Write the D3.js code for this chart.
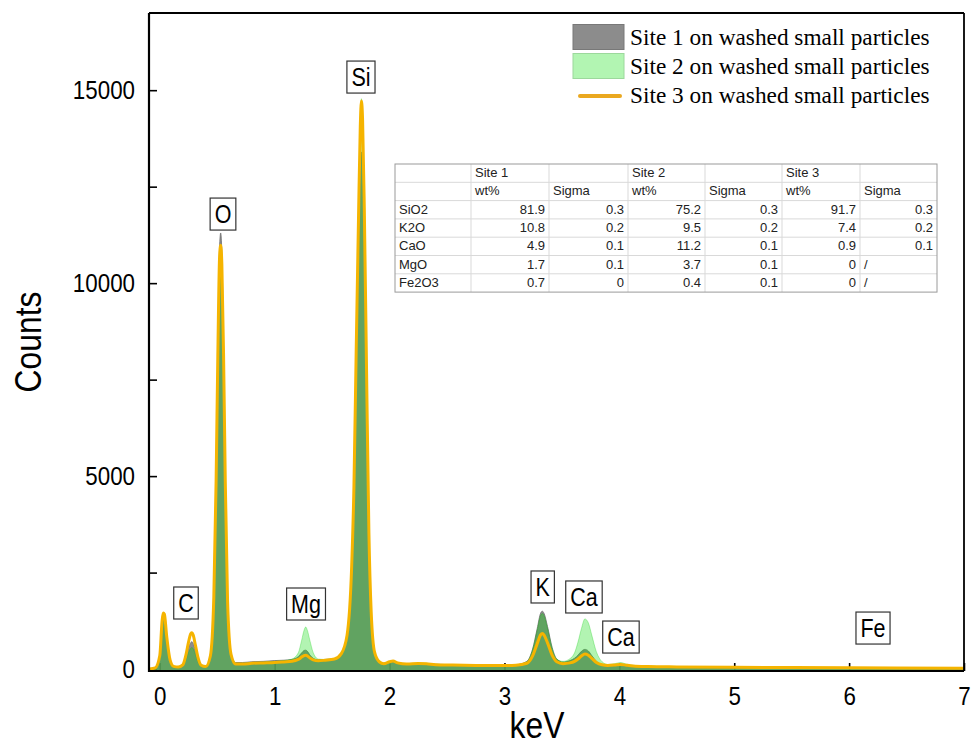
<!DOCTYPE html>
<html>
<head>
<meta charset="utf-8">
<script src="https://cdn.jsdelivr.net/npm/d3@7"></script>
<style>
  html, body { margin: 0; padding: 0; background: #fff; }
  svg { display: block; }
</style>
</head>
<body>
<svg id="chart" width="972" height="745"></svg>
<script>
// ---- EDS spectra (energy in keV, counts) ----
const keV = [-0.09,-0.04,0.00,0.02,0.03,0.04,0.06,0.09,0.12,0.16,
  0.20,0.23,0.25,0.27,0.28,0.29,0.31,0.33,0.36,0.40,
  0.44,0.47,0.49,0.505,0.52,0.53,0.54,0.555,0.57,0.59,
  0.62,0.66,0.72,0.80,0.90,1.00,1.08,1.15,1.205,1.235,
  1.255,1.27,1.285,1.305,1.335,1.38,1.44,1.52,1.58,1.63,
  1.67,1.69,1.71,1.73,1.745,1.755,1.765,1.78,1.80,1.82,
  1.84,1.87,1.91,1.95,2.00,2.03,2.07,2.15,2.25,2.32,
  2.40,2.55,2.75,2.95,3.10,3.195,3.245,3.285,3.315,3.33,
  3.345,3.375,3.415,3.455,3.51,3.57,3.61,3.64,3.67,3.70,
  3.73,3.76,3.80,3.85,3.90,3.96,4.01,4.06,4.12,4.25,
  4.50,5.00,5.50,6.00,6.40,7.00];

const site1 = [0,20,300,1150,1320,1280,750,200,70,60,
  110,300,550,690,710,670,480,250,90,70,
  350,1900,5000,8300,10900,11300,10800,8400,5000,1800,
  400,170,170,190,200,220,230,250,320,420,
  480,490,460,370,280,240,250,270,400,820,
  2450,4350,7600,10700,12800,13400,12950,10900,7000,3250,
  1350,420,210,150,190,210,170,140,150,145,
  125,115,100,95,110,200,520,1050,1450,1500,
  1440,1100,560,260,180,220,280,360,460,510,
  470,350,200,120,100,110,125,105,85,70,
  60,50,40,35,30,22];

const site2 = [0,20,280,1100,1280,1240,700,180,60,55,
  100,250,430,540,560,530,380,200,80,60,
  310,1700,4500,7500,9900,10300,9800,7600,4500,1600,
  360,150,150,170,180,200,220,260,420,750,
  1000,1090,1000,760,430,260,250,270,420,900,
  2700,4800,8400,11800,14100,14780,14300,12000,7700,3600,
  1500,450,200,150,200,220,170,140,150,150,
  125,115,105,100,110,190,500,1000,1390,1440,
  1380,1050,540,260,200,270,420,700,1050,1300,
  1200,880,450,190,120,140,170,130,95,75,
  60,50,40,35,30,22];

const site3 = [0,30,350,1250,1450,1420,850,230,70,55,
  110,400,700,920,940,890,620,330,100,65,
  340,1850,4850,8100,10650,10980,10500,8150,4850,1750,
  380,130,130,150,160,170,185,200,250,310,
  350,360,340,290,240,215,230,260,400,880,
  2650,4750,8350,11750,14050,14720,14250,11950,7650,3550,
  1480,430,190,140,190,210,160,130,145,140,
  115,105,95,90,100,150,340,660,890,920,
  880,680,360,190,140,160,200,260,340,390,
  360,280,170,110,95,105,120,100,80,65,
  55,45,38,32,28,20];

const seriesNames = ["Site 1 on washed small particles",
                     "Site 2 on washed small particles",
                     "Site 3 on washed small particles"];

// ---- axis ticks ----
const xTickValues = [0, 1, 2, 3, 4, 5, 6, 7];
const yTickValues = [0, 2500, 5000, 7500, 10000, 12500, 15000];
const yTickLabels = [0, 5000, 10000, 15000];

// ---- element line labels (anchor in keV / counts) ----
const elementNames  = ["C", "O", "Mg", "Si", "K", "Ca", "Ca", "Fe"];
const elementKeV    = [0.228, 0.550, 1.273, 1.751, 3.333, 3.692, 4.014, 6.208];
const elementCounts = [1712, 11790, 1686, 15340, 2127, 1868, 830, 1063];

// ---- quantification table ----
const tableSites  = ["Site 1", "Site 2", "Site 3"];
const oxides      = ["SiO2", "K2O", "CaO", "MgO", "Fe2O3"];
const site1Wt     = ["81.9", "10.8", "4.9", "1.7", "0.7"];
const site1Sigma  = ["0.3", "0.2", "0.1", "0.1", "0"];
const site2Wt     = ["75.2", "9.5", "11.2", "3.7", "0.4"];
const site2Sigma  = ["0.3", "0.2", "0.1", "0.1", "0.1"];
const site3Wt     = ["91.7", "7.4", "0.9", "0", "0"];
const site3Sigma  = ["0.3", "0.2", "0.1", "/", "/"];

// ---------------------------------------------------------------
const svg = d3.select("#chart");
const SANS = "'Liberation Sans', Arial, sans-serif";
const SERIF = "'Liberation Serif', 'Times New Roman', serif";
const NARROW = 0.86;   // horizontal squeeze for the narrow sans labels

const plotL = 149, plotR = 964, plotT = 13, plotB = 671;
const x = d3.scaleLinear().domain([-0.094, 7]).range([plotL, plotR]);
const y = d3.scaleLinear().domain([-50, 17000]).range([plotB, plotT]);

svg.append("defs").append("clipPath").attr("id", "plotClip")
  .append("rect").attr("x", plotL).attr("y", plotT)
  .attr("width", plotR - plotL).attr("height", plotB - plotT);

// axes (inward ticks)
const yAxis = d3.axisLeft(y).tickValues(yTickValues).tickSize(-8).tickPadding(14)
  .tickFormat(d => yTickLabels.includes(d) ? String(d) : "");
const xAxis = d3.axisBottom(x).tickValues(xTickValues).tickSize(-8).tickPadding(16)
  .tickFormat(d3.format("d"));

const gy = svg.append("g").attr("transform", `translate(${plotL},0)`).call(yAxis);
const gx = svg.append("g").attr("transform", `translate(0,${plotB})`).call(xAxis);
[gx, gy].forEach(g => {
  g.select(".domain").remove();
  g.selectAll(".tick line").attr("stroke", "#000").attr("stroke-width", 1.6);
  g.selectAll(".tick text").attr("font-family", SANS).attr("font-size", 26).attr("fill", "#000");
});
gx.selectAll(".tick text").attr("transform", `scale(${NARROW},1)`);
gy.selectAll(".tick text").attr("x", 0).attr("transform", `translate(-14,0) scale(${NARROW},1)`);

// spectra
const pts = arr => keV.map((k, i) => [k, arr[i]]);
const area = d3.area().x(d => x(d[0])).y0(y(-50)).y1(d => y(d[1])).curve(d3.curveMonotoneX);
const line = d3.line().x(d => x(d[0])).y(d => y(d[1])).curve(d3.curveMonotoneX);

const plot = svg.append("g").attr("clip-path", "url(#plotClip)");
plot.append("path").attr("d", area(pts(site1)))
  .attr("fill", "#808080").attr("fill-opacity", 0.9)
  .attr("stroke", "#6e6e6e").attr("stroke-width", 0.8);
plot.append("path").attr("d", area(pts(site2)))
  .attr("fill", "rgb(0,220,0)").attr("fill-opacity", 0.3)
  .attr("stroke", "rgba(0,200,0,0.35)").attr("stroke-width", 0.8);
plot.append("path").attr("d", line(pts(site3)))
  .attr("fill", "none").attr("stroke", "#f5b400").attr("stroke-width", 3)
  .attr("stroke-linejoin", "round");

// frame
svg.append("line").attr("x1", plotL).attr("x2", plotL).attr("y1", plotT).attr("y2", plotB + 1)
  .attr("stroke", "#000").attr("stroke-width", 2.2);
svg.append("line").attr("x1", plotL).attr("x2", plotR).attr("y1", plotB).attr("y2", plotB)
  .attr("stroke", "#000").attr("stroke-width", 2);
svg.append("line").attr("x1", plotL).attr("x2", plotR).attr("y1", plotT).attr("y2", plotT)
  .attr("stroke", "#000").attr("stroke-width", 1.8);
svg.append("line").attr("x1", plotR).attr("x2", plotR).attr("y1", plotT).attr("y2", plotB)
  .attr("stroke", "#000").attr("stroke-width", 1.8);

// axis titles
svg.append("text").attr("transform", `translate(41,342) rotate(-90) scale(${NARROW},1)`)
  .attr("text-anchor", "middle").attr("font-family", SANS).attr("font-size", 37)
  .attr("fill", "#000").text("Counts");
svg.append("text").attr("transform", `translate(537,738) scale(${NARROW},1)`)
  .attr("text-anchor", "middle").attr("font-family", SANS).attr("font-size", 37)
  .attr("fill", "#000").text("keV");

// element labels in boxes
elementNames.forEach((name, i) => {
  const cx = x(elementKeV[i]), cy = y(elementCounts[i]);
  const g = svg.append("g");
  const t = g.append("text").attr("transform", `translate(${cx},${cy + 9}) scale(${NARROW},1)`)
    .attr("text-anchor", "middle").attr("font-family", SANS).attr("font-size", 25)
    .attr("fill", "#000").text(name);
  const w = t.node().getComputedTextLength() * NARROW + 9;
  g.insert("rect", "text").attr("x", cx - w / 2).attr("y", cy - 16)
    .attr("width", w).attr("height", 32)
    .attr("fill", "#fff").attr("stroke", "#333").attr("stroke-width", 1.2);
});

// legend
const legend = svg.append("g");
legend.append("rect").attr("x", 573).attr("y", 24.5).attr("width", 51).attr("height", 25)
  .attr("fill", "#8c8c8c").attr("stroke", "#787878").attr("stroke-width", 1);
legend.append("rect").attr("x", 573).attr("y", 53.5).attr("width", 51).attr("height", 25)
  .attr("fill", "#b2f5b2").attr("stroke", "#9cd89c").attr("stroke-width", 1);
legend.append("line").attr("x1", 580).attr("x2", 620).attr("y1", 96).attr("y2", 96)
  .attr("stroke", "#eaa820").attr("stroke-width", 4).attr("stroke-linecap", "round");
seriesNames.forEach((s, i) => {
  legend.append("text").attr("x", 630).attr("y", 45 + i * 29.2)
    .attr("font-family", SERIF).attr("font-size", 23.3).attr("fill", "#000").text(s);
});

// quantification table
const colEdges = [395, 471, 549, 628, 705, 782, 860, 937];
const tTop = 164, rowH = 18.3;
const nRows = 2 + oxides.length;
const tbl = svg.append("g");
tbl.append("rect").attr("x", colEdges[0]).attr("y", tTop)
  .attr("width", colEdges[7] - colEdges[0]).attr("height", rowH * nRows)
  .attr("fill", "#fff").attr("stroke", "none");
for (let r = 1; r < nRows; r++) {
  tbl.append("line").attr("x1", colEdges[0]).attr("x2", colEdges[7])
    .attr("y1", tTop + r * rowH).attr("y2", tTop + r * rowH)
    .attr("stroke", "#d9d9d9").attr("stroke-width", 1);
}
for (let c = 1; c < colEdges.length - 1; c++) {
  tbl.append("line").attr("x1", colEdges[c]).attr("x2", colEdges[c])
    .attr("y1", tTop).attr("y2", tTop + rowH * nRows)
    .attr("stroke", "#d9d9d9").attr("stroke-width", 1);
}
tbl.append("rect").attr("x", colEdges[0]).attr("y", tTop)
  .attr("width", colEdges[7] - colEdges[0]).attr("height", rowH * nRows)
  .attr("fill", "none").attr("stroke", "#9a9a9a").attr("stroke-width", 1);

function cell(row, col, txt, align) {
  const yy = tTop + row * rowH + 13;
  const xx = align === "end" ? colEdges[col + 1] - 4 : colEdges[col] + 4;
  tbl.append("text").attr("x", xx).attr("y", yy).attr("text-anchor", align)
    .attr("font-family", SANS).attr("font-size", 13).attr("fill", "#222").text(txt);
}
tableSites.forEach((s, i) => {
  cell(0, 1 + i * 2, s, "start");
  cell(1, 1 + i * 2, "wt%", "start");
  cell(1, 2 + i * 2, "Sigma", "start");
});
const cols = [site1Wt, site1Sigma, site2Wt, site2Sigma, site3Wt, site3Sigma];
oxides.forEach((ox, r) => {
  cell(2 + r, 0, ox, "start");
  cols.forEach((arr, c) => {
    const v = arr[r];
    cell(2 + r, 1 + c, v, v === "/" ? "start" : "end");
  });
});
</script>
</body>
</html>
